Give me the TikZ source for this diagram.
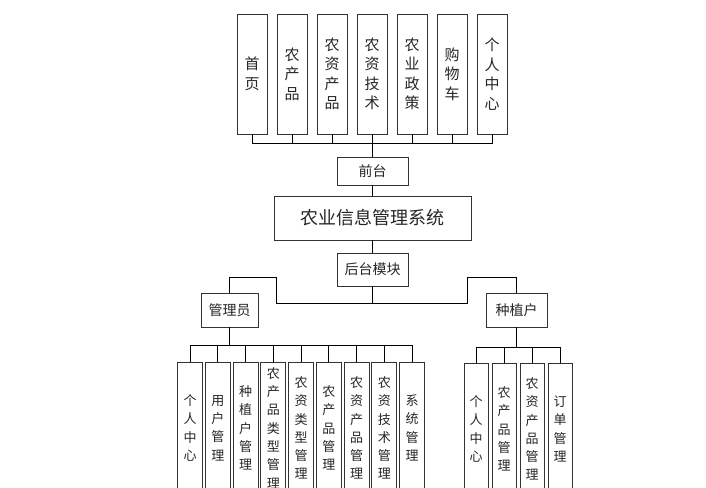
\documentclass[tikz,border=0pt]{standalone}
\usepackage{fontspec}
\newfontfamily\cjk{Noto Sans CJK SC}
\begin{document}
\begin{tikzpicture}[x=1pt,y=-1pt,
  box/.style={draw=black!80,line width=0.9pt,inner sep=0pt,align=center,font=\cjk\fontsize{14}{17}\selectfont,text=black!85},
  topbox/.style={box,minimum width=30pt,minimum height=120pt,font=\cjk\fontsize{15}{19.5}\selectfont},
  leafl/.style={box,minimum width=25pt,minimum height=132pt,font=\cjk\fontsize{13}{18.3}\selectfont},
  leafr/.style={box,minimum width=24pt,minimum height=132pt,font=\cjk\fontsize{13}{18.3}\selectfont},
  conn/.style={draw=black,line width=0.9pt}]
\useasboundingbox (0,0) rectangle (706,487);
\clip (0,0) rectangle (706,487);
\fill[white] (0,0) rectangle (706,487);
% top boxes
\node[topbox] (t1) at (252,74) {首\\页};
\node[topbox] (t2) at (292,74) {农\\产\\品};
\node[topbox] (t3) at (332,74) {农\\资\\产\\品};
\node[topbox] (t4) at (372,74) {农\\资\\技\\术};
\node[topbox] (t5) at (412,74) {农\\业\\政\\策};
\node[topbox] (t6) at (452,74) {购\\物\\车};
\node[topbox] (t7) at (492,74) {个\\人\\中\\心};
\coordinate (topbus) at (372.5,143);
\foreach \i in {1,...,7} {\draw[conn] (t\i.south) |- (topbus);}
% middle
\node[box,minimum width=71pt,minimum height=28pt] (qt) at (372.5,171) {前台};
\node[box,minimum width=197pt,minimum height=44pt,font=\cjk\fontsize{18}{20}\selectfont] (sys) at (372.5,218) {农业信息管理系统};
\node[box,minimum width=71pt,minimum height=33pt] (ht) at (372.5,269.5) {后台模块};
\draw[conn] (topbus) -- (qt.north);
\draw[conn] (qt.south) -- (sys.north);
\draw[conn] (sys.south) -- (ht.north);
\node[box,minimum width=57pt,minimum height=34pt] (adm) at (229.5,310) {管理员};
\node[box,minimum width=61pt,minimum height=34pt] (grw) at (516.5,310) {种植户};
\coordinate (hb) at (372.5,303);
\coordinate (lk) at (276,277);
\coordinate (rk) at (467,277);
\draw[conn] (ht.south) -- (hb);
\draw[conn] (hb) -| (lk) -| (adm.north);
\draw[conn] (hb) -| (rk) -| (grw.north);
% left leaves
\node[leafl] (l1) at (190,428) {个\\人\\中\\心};
\node[leafl] (l2) at (217.75,428) {用\\户\\管\\理};
\node[leafl] (l3) at (245.5,428) {种\\植\\户\\管\\理};
\node[leafl] (l4) at (273.25,428) {农\\产\\品\\类\\型\\管\\理};
\node[leafl] (l5) at (301,428) {农\\资\\类\\型\\管\\理};
\node[leafl] (l6) at (328.75,428) {农\\产\\品\\管\\理};
\node[leafl] (l7) at (356.5,428) {农\\资\\产\\品\\管\\理};
\node[leafl] (l8) at (384.25,428) {农\\资\\技\\术\\管\\理};
\node[leafl] (l9) at (412,428) {系\\统\\管\\理};
\coordinate (lbus) at (229.5,345);
\draw[conn] (adm.south) -- (lbus);
\foreach \i in {1,...,9} {\draw[conn] (lbus) -| (l\i.north);}
% right leaves
\node[leafr] (r1) at (476,429) {个\\人\\中\\心};
\node[leafr] (r2) at (504,429) {农\\产\\品\\管\\理};
\node[leafr] (r3) at (532,429) {农\\资\\产\\品\\管\\理};
\node[leafr] (r4) at (560,429) {订\\单\\管\\理};
\coordinate (rbus) at (516.5,347);
\draw[conn] (grw.south) -- (rbus);
\foreach \i in {1,...,4} {\draw[conn] (rbus) -| (r\i.north);}
\end{tikzpicture}
\end{document}
